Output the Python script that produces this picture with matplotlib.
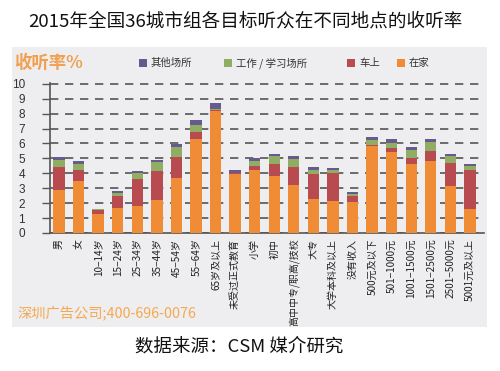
import matplotlib
matplotlib.use("Agg")
import matplotlib.pyplot as plt
from matplotlib.patches import Rectangle
import numpy as np

plt.rcParams['font.family'] = ['Noto Sans CJK SC', 'DejaVu Sans']

categories = ["男", "女", "10−14岁", "15−24岁", "25−34岁", "35−44岁", "45−54岁", "55−64岁",
              "65岁及以上", "未受过正式教育", "小学", "初中", "高中中专/职高/技校", "大专",
              "大学本科及以上", "没有收入", "500元及以下", "501−1000元", "1001−1500元",
              "1501−2500元", "2501−5000元", "5001元及以上"]
home  = [2.9, 3.5, 1.25, 1.7, 1.8, 2.2, 3.7, 6.3, 8.15, 3.95, 4.2, 3.85, 3.2, 2.3, 2.15, 2.1, 5.8, 5.4, 4.6, 4.8, 3.15, 1.6]
car   = [1.55, 0.75, 0.3, 0.75, 1.8, 1.95, 1.4, 0.45, 0.1, 0.05, 0.3, 0.8, 1.25, 1.65, 1.85, 0.4, 0.12, 0.3, 0.4, 0.7, 1.55, 2.6]
work  = [0.45, 0.4, 0.03, 0.22, 0.4, 0.62, 0.65, 0.5, 0.08, 0.05, 0.35, 0.5, 0.5, 0.3, 0.22, 0.12, 0.3, 0.3, 0.53, 0.62, 0.45, 0.3]
other = [0.2, 0.15, 0.02, 0.13, 0.13, 0.13, 0.22, 0.3, 0.38, 0.17, 0.15, 0.17, 0.2, 0.15, 0.15, 0.15, 0.2, 0.3, 0.22, 0.2, 0.17, 0.15]
series_names = ["其他场所", "工作 / 学习场所", "车上", "在家"]
yticks = list(range(0, 11))

c_home, c_car, c_work, c_other = "#F08C35", "#B84B50", "#90AD64", "#675A8C"

W, H = 500, 371
fig, ax = plt.subplots(figsize=(W / 100, H / 100), dpi=100)
fig.patch.set_facecolor("white")
fig.subplots_adjust(left=50 / W, right=484 / W, bottom=1 - 233 / H, top=1 - 83 / H)

def fx(px): return px / W
def fy(py): return 1 - py / H

# gray panel background
fig.patches.append(Rectangle((fx(12), fy(327)), fx(487) - fx(12), fy(47) - fy(327),
                             transform=fig.transFigure, facecolor="#EEEEF0", edgecolor="none", zorder=-5))
ax.set_zorder(1)
ax.set_facecolor("#EEEEF0")

x = np.arange(len(categories))
h = np.array(home); c = np.array(car); w = np.array(work); o = np.array(other)
bw = 0.58
ax.bar(x, h, bw, color=c_home, zorder=3)
ax.bar(x, c, bw, bottom=h, color=c_car, zorder=3)
ax.bar(x, w, bw, bottom=h + c, color=c_work, zorder=3)
ax.bar(x, o, bw, bottom=h + c + w, color=c_other, zorder=3)

ax.set_xlim(-0.46, 21.72)
ax.set_ylim(0, 10.05)
ax.set_yticks(yticks)
ax.set_yticklabels([str(t) for t in yticks], fontsize=8.5, color="#333333", family="Liberation Sans")
ax.set_axisbelow(True)
ax.grid(True, axis="y", color="#555555", linewidth=1.2, linestyle=(0, (5, 4)))
ax.set_xticks(x)
ax.set_xticklabels(categories, rotation=90, fontsize=7.2, color="#222222", va="top", ha="center")
ax.tick_params(axis="x", length=0, pad=4)
ax.tick_params(axis="y", length=6, color="#555555", width=1.0, pad=12)
for s in ["top", "right"]:
    ax.spines[s].set_visible(False)
for s in ["left", "bottom"]:
    ax.spines[s].set_color("#555555")
    ax.spines[s].set_linewidth(1.2)

# header and legend
fig.text(fx(14), fy(63), "收听率%", fontsize=12.5, color="#F0A050", fontweight="bold", va="center", ha="left")
legend_items = [(139, c_other), (224, c_work), (347, c_car), (397, c_home)]
for (px, col), name in zip(legend_items, series_names):
    fig.patches.append(Rectangle((fx(px), fy(67)), fx(8), fy(59) - fy(67),
                                 transform=fig.transFigure, facecolor=col, edgecolor="none"))
    fig.text(fx(px + 12), fy(63), name, fontsize=7.5, color="#333333", va="center", ha="left")

fig.text(fx(245), fy(22), "2015年全国36城市组各目标听众在不同地点的收听率", fontsize=13.4,
         ha="center", va="center", color="#111111")
fig.text(fx(17), fy(313), "深圳广告公司;400-696-0076", fontsize=10.3, color="#F5A850",
         ha="left", va="center")
fig.text(fx(239), fy(347), "数据来源：CSM 媒介研究", fontsize=13.3, color="#111111",
         ha="center", va="center")

fig.savefig("out.png", dpi=100)
